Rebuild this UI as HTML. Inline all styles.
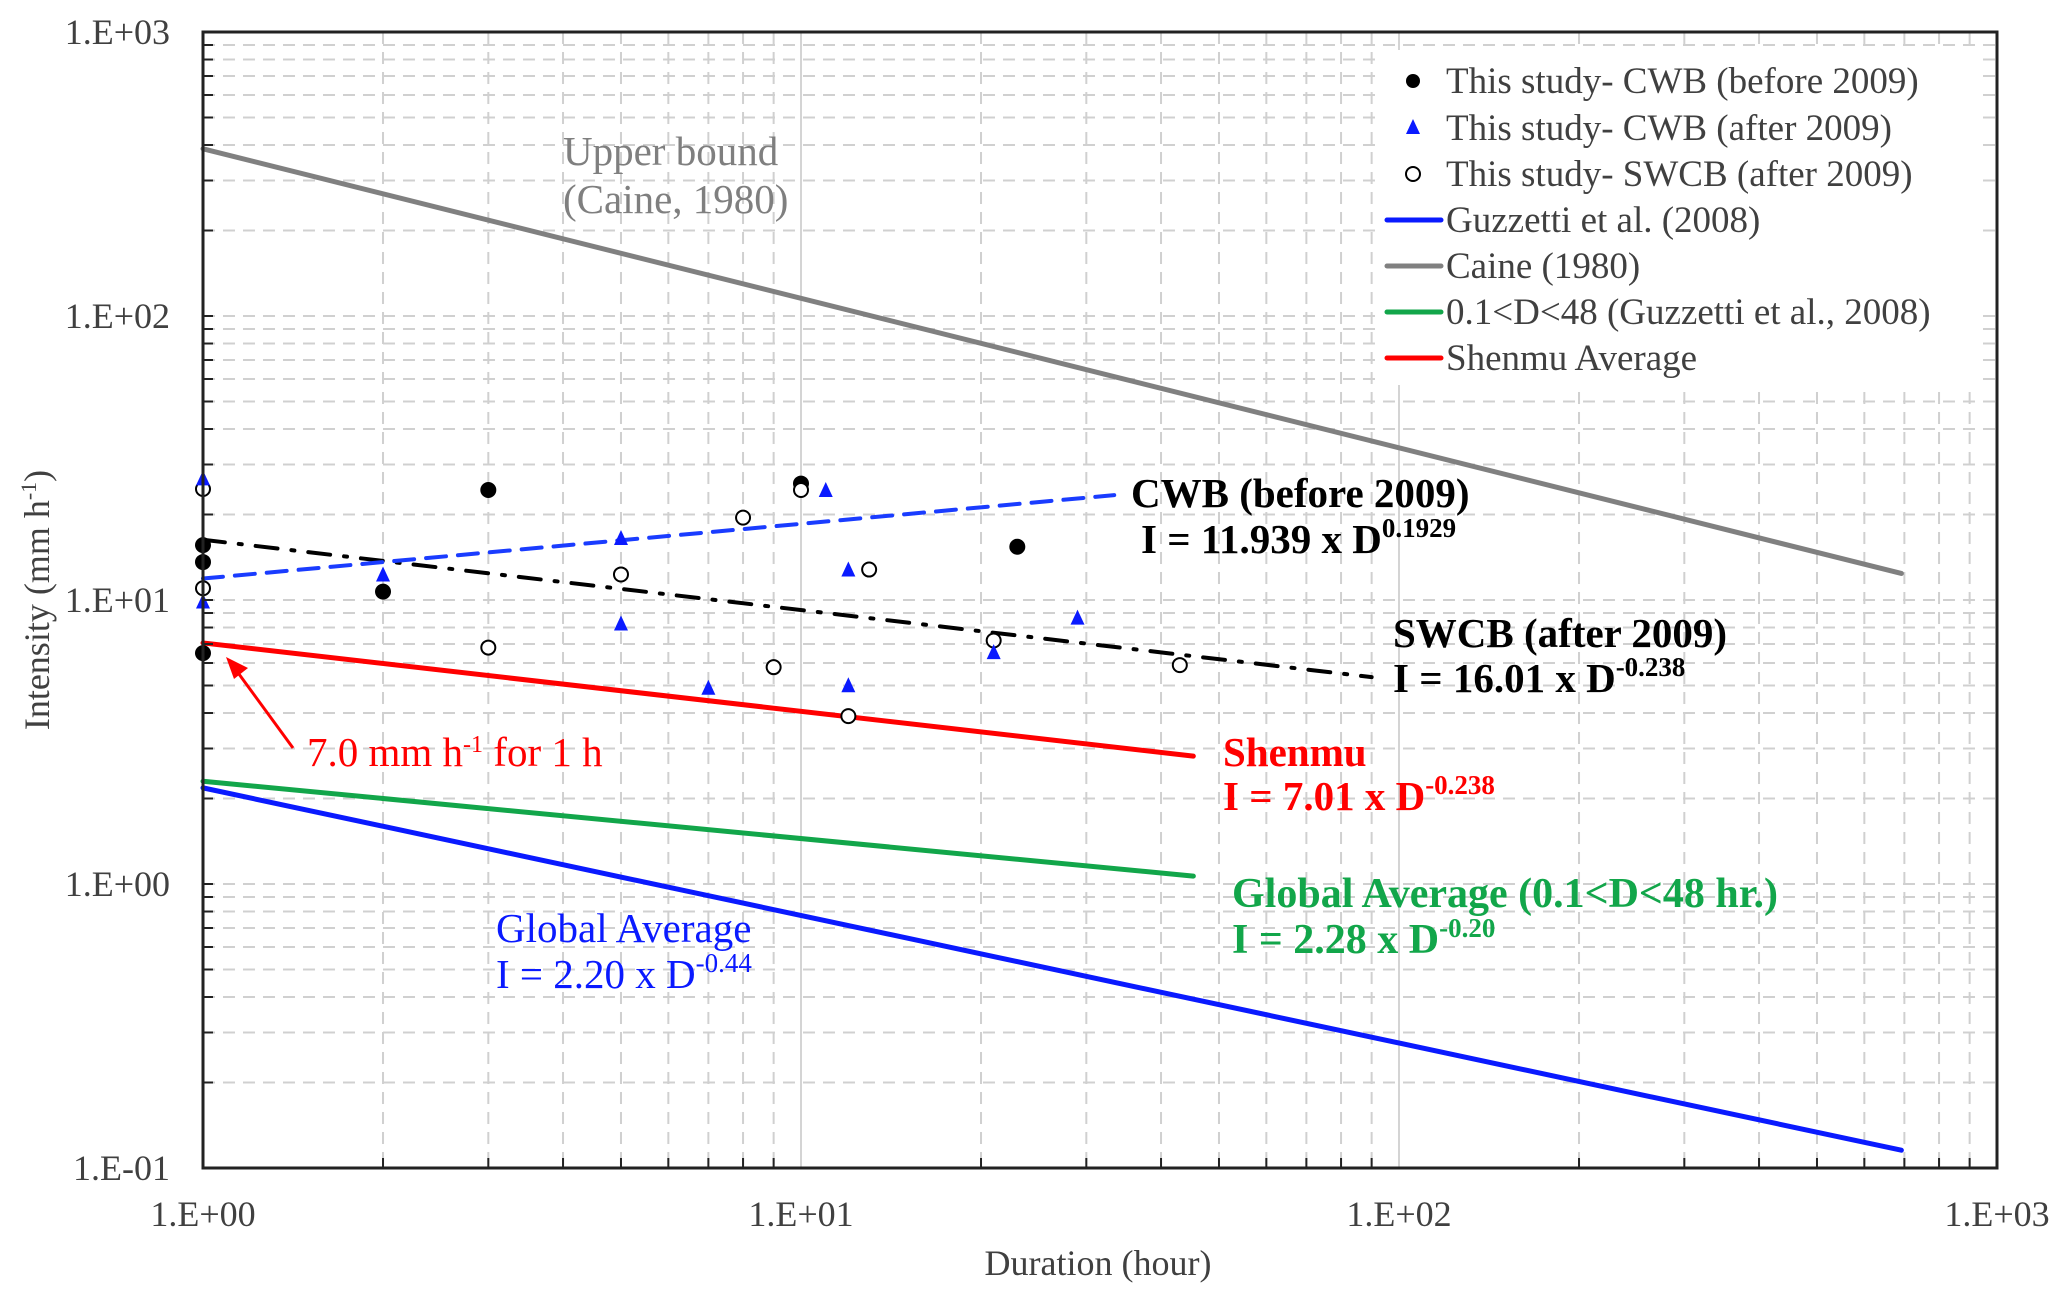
<!DOCTYPE html>
<html><head><meta charset="utf-8"><style>
html,body{margin:0;padding:0;background:#fff}
svg{display:block;font-family:"Liberation Serif","Times New Roman",serif}
</style></head><body>
<svg id="chart" xmlns="http://www.w3.org/2000/svg" width="2067" height="1301" viewBox="0 0 2067 1301">
<rect x="0" y="0" width="2067" height="1301" fill="#fff"/>
<g id="grid"></g>
<g id="series"></g>
<g id="axes"></g>
<g id="legend"></g>
<g id="annot">
<text x="563" y="165" font-size="41" fill="#7f7f7f">Upper bound</text>
<text x="563" y="213" font-size="41" fill="#7f7f7f">(Caine, 1980)</text>
<text x="1131" y="507" font-size="41" font-weight="bold" fill="#000">CWB (before 2009)</text>
<text x="1141" y="553" font-size="41" font-weight="bold" fill="#000">I = 11.939 x D<tspan dy="-16" font-size="27">0.1929</tspan></text>
<text x="1393" y="647" font-size="41" font-weight="bold" fill="#000">SWCB (after 2009)</text>
<text x="1393" y="692" font-size="41" font-weight="bold" fill="#000">I = 16.01 x D<tspan dy="-16" font-size="27">-0.238</tspan></text>
<text x="1223" y="766" font-size="41" font-weight="bold" fill="#ff0000">Shenmu</text>
<text x="1223" y="810" font-size="41" font-weight="bold" fill="#ff0000">I = 7.01 x D<tspan dy="-16" font-size="27">-0.238</tspan></text>
<text x="1232" y="907" font-size="42" font-weight="bold" fill="#12a64a">Global Average (0.1&lt;D&lt;48 hr.)</text>
<text x="1232" y="953" font-size="42" font-weight="bold" fill="#12a64a">I = 2.28 x D<tspan dy="-16" font-size="27">-0.20</tspan></text>
<text x="496" y="942" font-size="41" fill="#0a1aff">Global Average</text>
<text x="496" y="988" font-size="41" fill="#0a1aff">I = 2.20 x D<tspan dy="-16" font-size="27">-0.44</tspan></text>
<text x="307" y="766" font-size="41" fill="#ff0000">7.0 mm h<tspan dy="-14" font-size="24">-1</tspan><tspan dy="14"> for 1 h</tspan></text>
<line x1="293" y1="748" x2="236" y2="670" stroke="#ff0000" stroke-width="3"/>
<polygon points="226,657 248,668 234,679" fill="#ff0000"/>
<text x="1098" y="1275" font-size="36" text-anchor="middle" fill="#404040">Duration (hour)</text>
<text transform="translate(49,600) rotate(-90)" font-size="36" text-anchor="middle" fill="#404040">Intensity (mm h<tspan dy="-13" font-size="22">-1</tspan><tspan dy="13">)</tspan></text>
</g>
</svg>
<script>
// ---- data ----
const xTickValues = [1, 10, 100, 1000];
const xTickLabels = ["1.E+00", "1.E+01", "1.E+02", "1.E+03"];
const yTickValues = [0.1, 1, 10, 100, 1000];
const yTickLabels = ["1.E-01", "1.E+00", "1.E+01", "1.E+02", "1.E+03"];

const cwbBeforeX = [1, 1, 1, 2, 3, 10, 23];
const cwbBeforeY = [15.6, 13.6, 6.5, 10.7, 24.4, 25.7, 15.4];
const cwbAfterX = [1, 1, 2, 5, 5, 7, 11, 12, 12, 21, 29];
const cwbAfterY = [26.6, 9.8, 12.2, 16.4, 8.2, 4.87, 24.2, 12.7, 4.97, 6.5, 8.6];
const swcbX = [1, 1, 3, 5, 8, 9, 10, 13, 12, 21, 43];
const swcbY = [24.6, 11.0, 6.8, 12.3, 19.5, 5.8, 24.4, 12.8, 3.9, 7.2, 5.9];

const caineX = [1, 692];       const caineY = [388, 12.4];
const guzzettiX = [1, 692];    const guzzettiY = [2.18, 0.1155];
const globalX = [1, 45.3];     const globalY = [2.30, 1.066];
const shenmuX = [1, 45.3];     const shenmuY = [7.06, 2.82];
const swcbFitX = [1, 90];      const swcbFitY = [16.3, 5.35];
const cwbFitX = [1, 33.4];     const cwbFitY = [11.9, 23.4];

// ---- axes ----
const L = 203, R = 1997, T = 32, B = 1168;
const X = v => L + (R - L) / 3 * Math.log10(v);
const Y = v => T + (B - T) / 4 * (3 - Math.log10(v));
const NS = "http://www.w3.org/2000/svg";
function mk(tag, attrs, parent) {
  const e = document.createElementNS(NS, tag);
  for (const k in attrs) e.setAttribute(k, attrs[k]);
  parent.appendChild(e);
  return e;
}
const grid = document.getElementById('grid');
const axes = document.getElementById('axes');
const series = document.getElementById('series');
const legend = document.getElementById('legend');

for (let d = 0; d < 3; d++) {
  for (let m = 2; m <= 10; m++) {
    const v = Math.pow(10, d) * m;
    const x = X(v);
    const major = (m === 10 && d < 2);
    const g = mk('line', {x1: x, x2: x, y1: T, y2: B, stroke: major ? '#d4d4d4' : '#d0d0d0', 'stroke-width': 2}, grid);
    if (!major) g.setAttribute('stroke-dasharray', '12 8');
    
    
    if (m < 10 || d === 2) {
      const t = mk('line', {x1: x, x2: x, y1: B, y2: B - 10, stroke: '#222', 'stroke-width': 2}, axes);
      
      
    }
  }
}
for (let d = -1; d < 3; d++) {
  for (let m = 2; m <= 10; m++) {
    const v = Math.pow(10, d) * m;
    const y = Y(v);
    const g = mk('line', {x1: L, x2: R, y1: y, y2: y, stroke: '#d0d0d0', 'stroke-width': 2, 'stroke-dasharray': '12 8'}, grid);
    
    
    const t = mk('line', {x1: L, x2: L + 10, y1: y, y2: y, stroke: '#222', 'stroke-width': 2}, axes);
    
    
  }
}
const frame = mk('rect', {x: L, y: T, width: R - L, height: B - T, fill: 'none', stroke: '#222', 'stroke-width': 3}, axes);


xTickValues.forEach((v, i) => {
  const t = mk('text', {x: X(v), y: 1226, 'font-size': 36, 'text-anchor': 'middle', fill: '#404040'}, axes);
  t.textContent = xTickLabels[i];
  
  
});
yTickValues.forEach((v, i) => {
  const t = mk('text', {x: 170, y: Y(v) + 12, 'font-size': 36, 'text-anchor': 'end', fill: '#404040'}, axes);
  t.textContent = yTickLabels[i];
  
  
});

function line(xs, ys, color, w, dash, name) {
  const el = mk('line', {x1: X(xs[0]), y1: Y(ys[0]), x2: X(xs[1]), y2: Y(ys[1]), stroke: color, 'stroke-width': w, 'stroke-linecap': 'round'}, series);
  if (dash) el.setAttribute('stroke-dasharray', dash);
  
  
}
line(caineX, caineY, '#808080', 5, null, 'caine-line');
line(guzzettiX, guzzettiY, '#0a1aff', 5, null, 'guzzetti-line');
line(globalX, globalY, '#12a64a', 5, null, 'global-average-line');
line(shenmuX, shenmuY, '#ff0000', 5, null, 'shenmu-line');
line(swcbFitX, swcbFitY, '#000', 4, '22 14 3 14', 'swcb-fit-line');
line(cwbFitX, cwbFitY, '#1a3cff', 4, '20 12', 'cwb-fit-line');

function circles(xs, ys, fill, name) {
  xs.forEach((x, i) => {
    const c = mk('circle', {cx: X(x), cy: Y(ys[i]), r: 7, fill: fill, stroke: '#000', 'stroke-width': 2}, series);
    
    
  });
}
circles(cwbBeforeX, cwbBeforeY, '#000', 'cwb-before-point');
circles(swcbX, swcbY, '#fff', 'swcb-point');
cwbAfterX.forEach((x, i) => {
  const cx = X(x), cy = Y(cwbAfterY[i]);
  const p = mk('polygon', {points: `${cx},${cy - 9} ${cx - 7},${cy + 6} ${cx + 7},${cy + 6}`, fill: '#0a1aff'}, series);
  
  
});

const lgBg = mk('rect', {x: 1380, y: 50, width: 595, height: 335, fill: '#fff'}, legend);


const legendLabels = ["This study- CWB (before 2009)", "This study- CWB (after 2009)", "This study- SWCB (after 2009)", "Guzzetti et al. (2008)", "Caine (1980)", "0.1<D<48 (Guzzetti et al., 2008)", "Shenmu Average"];
const legendRowY = [81, 128, 174, 220, 266, 312, 358];
legendLabels.forEach((lab, i) => {
  const y = legendRowY[i];
  const g = mk('g', {}, legend);
  
  
  if (i === 0) mk('circle', {cx: 1413, cy: y, r: 7, fill: '#000'}, g);
  else if (i === 1) mk('polygon', {points: `1413,${y - 9} 1406,${y + 6} 1420,${y + 6}`, fill: '#0a1aff'}, g);
  else if (i === 2) mk('circle', {cx: 1413, cy: y, r: 7, fill: '#fff', stroke: '#000', 'stroke-width': 2}, g);
  else {
    const col = ['#0a1aff', '#808080', '#12a64a', '#ff0000'][i - 3];
    mk('line', {x1: 1387, x2: 1441, y1: y, y2: y, stroke: col, 'stroke-width': 5, 'stroke-linecap': 'round'}, g);
  }
  const t = mk('text', {x: 1446, y: y + 12, 'font-size': 37, fill: '#404040'}, g);
  t.textContent = lab;
});
</script>
</body></html>
